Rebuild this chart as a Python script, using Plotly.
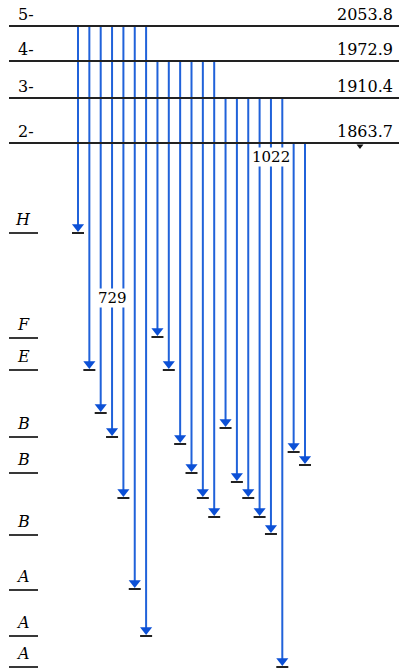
import plotly.graph_objects as go

# ---- data ----
upper_names = ["5-", "4-", "3-", "2-"]
upper_energies = ["2053.8", "1972.9", "1910.4", "1863.7"]
upper_y = [26, 61, 98, 143]

lower_names = ["H", "F", "E", "B", "B", "B", "A", "A", "A"]
lower_y = [233, 338, 370, 437, 473, 535, 590, 636, 667]

trans_from = ["5-"] * 7 + ["4-"] * 6 + ["3-"] * 6 + ["2-"] * 2
trans_end_y = [233, 370, 413, 437, 498, 589, 636,
               337, 370, 444, 473, 498, 517,
               428, 482, 498, 517, 534, 667,
               452, 465]

gamma_label_index = [3, 17]
gamma_label_text = ["729", "1022"]
gamma_label_y = [298, 157]

# ---- layout helpers ----
W, H = 399, 671
X0, DX = 78, 11.35
BLUE = "#2062da"
HEAD = "#0c50d6"
DARK = "#222222"
FONT = "DejaVu Serif"
TXT = "#000000"

level_of = dict(zip(upper_names, upper_y))
xs = [X0 + i * DX for i in range(len(trans_end_y))]

fig = go.Figure()

# transition lines
lx, ly = [], []
for x, f, e in zip(xs, trans_from, trans_end_y):
    lx += [x, x, None]
    ly += [level_of[f], e - 6, None]
fig.add_trace(go.Scatter(x=lx, y=ly, mode="lines",
                         line=dict(color=BLUE, width=2), hoverinfo="skip"))

# upper level lines
ux, uy = [], []
for y in upper_y:
    ux += [9, W, None]
    uy += [y, y, None]
fig.add_trace(go.Scatter(x=ux, y=uy, mode="lines",
                         line=dict(color=DARK, width=1.8), hoverinfo="skip"))

# lower level stubs
bx, by = [], []
for y in lower_y:
    bx += [9, 38, None]
    by += [y, y, None]
fig.add_trace(go.Scatter(x=bx, y=by, mode="lines",
                         line=dict(color=DARK, width=1.8), hoverinfo="skip"))

# end ticks
tx, ty = [], []
for x, e in zip(xs, trans_end_y):
    tx += [x - 6, x + 6, None]
    ty += [e, e, None]
fig.add_trace(go.Scatter(x=tx, y=ty, mode="lines",
                         line=dict(color=DARK, width=2), hoverinfo="skip"))

# arrow heads
fig.add_trace(go.Scatter(x=xs, y=[e - 6.2 for e in trans_end_y], mode="markers",
                         marker=dict(symbol="triangle-down", size=10.5, color=HEAD,
                                     line=dict(width=0)),
                         hoverinfo="skip"))

# small marker under lowest upper level
fig.add_trace(go.Scatter(x=[360], y=[upper_y[-1] + 3], mode="markers",
                         marker=dict(symbol="triangle-down", size=6, color="#111",
                                     line=dict(width=0)),
                         hoverinfo="skip"))

ann = []
for n, e, y in zip(upper_names, upper_energies, upper_y):
    ann.append(dict(x=16, y=y - 12, text=n, xanchor="left", yanchor="middle",
                    showarrow=False, font=dict(family=FONT, size=16, color=TXT)))
    ann.append(dict(x=395, y=y - 12, text=e, xanchor="right", yanchor="middle",
                    showarrow=False, font=dict(family=FONT, size=16, color=TXT)))
for n, y in zip(lower_names, lower_y):
    ann.append(dict(x=23, y=y - 14, text="<i>" + n + "</i>", xanchor="center",
                    yanchor="middle", showarrow=False,
                    font=dict(family=FONT, size=16, color=TXT)))
for i, t, y in zip(gamma_label_index, gamma_label_text, gamma_label_y):
    ann.append(dict(x=xs[i], y=y, text=t, xanchor="center", yanchor="middle",
                    showarrow=False, bgcolor="white", borderpad=0,
                    font=dict(family=FONT, size=15, color=TXT)))

fig.update_layout(
    width=W, height=H,
    margin=dict(l=0, r=0, t=0, b=0),
    paper_bgcolor="white", plot_bgcolor="white",
    showlegend=False,
    xaxis=dict(range=[0, W], visible=False, fixedrange=True),
    yaxis=dict(range=[H, 0], visible=False, fixedrange=True),
    annotations=ann,
)

fig.write_html("out.html")
